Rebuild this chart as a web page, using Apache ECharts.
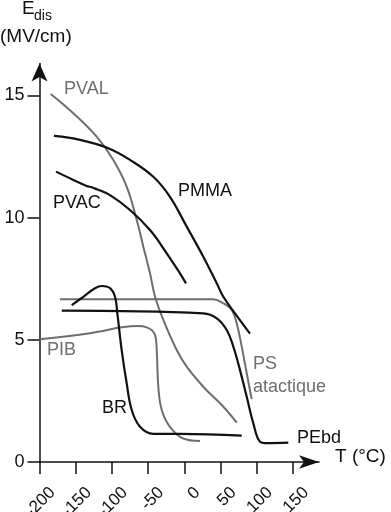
<!DOCTYPE html>
<html><head><meta charset="utf-8">
<script src="https://cdn.jsdelivr.net/npm/echarts@6/dist/echarts.min.js"></script>
<style>html,body{margin:0;padding:0;background:#fff}#c{width:391px;height:512px}</style>
</head><body><div id="c"></div>
<script>
const xTicks = [-200,-150,-100,-50,0,50,100,150];
const yTicks = [0,5,10,15];

const pvalT = [-184.5,-153.3,-121,-98.1,-79.6,-65.7,-56.6,-47.4,-40.5,-29,-10.5,3.3,26.2,53.9,72.4];
const pvalE = [15.06,14.27,13.31,12.36,11.27,9.9,8.81,7.72,6.77,5.81,4.58,3.9,3.08,2.26,1.61];

const pmmaT = [-180,-144.1,-105,-75,-42.8,-19.8,3.3,26.2,44.8,53.9,72,90.7];
const pmmaE = [13.34,13.18,12.84,12.36,11.67,10.85,9.63,8.4,7.31,6.76,6.0,5.25];

const pvacT = [-177.2,-153.3,-134.8,-127.9,-121,-102.6,-75,-47.4,-24.3,-6,2.3];
const pvacE = [11.88,11.54,11.29,11.24,11.16,10.92,10.31,9.49,8.54,7.72,7.31];

const psT = [-171.7,40.1,53.9,65.5,72.4,79.3,86.2,93.1];
const psE = [6.66,6.66,6.49,6.22,5.67,4.72,3.63,2.57];

const pebdT = [-169.3,26.2,44.8,58.6,67.7,76.9,86.2,95.3,104.6,113.8,143.6];
const pebdE = [6.19,6.08,5.88,5.4,4.72,3.76,2.67,1.58,0.83,0.77,0.79];

const brT = [-155.5,-139.5,-123.3,-114.1,-102.6,-95.7,-92.5,-86.5,-79.6,-72.7,-61.2,-42.8,-5.9,79.3];
const brE = [6.42,6.76,7.11,7.2,7.11,6.76,6.08,4.58,3.22,2.13,1.44,1.15,1.15,1.08];

const pibT = [-200,-130.2,-65.7,-51.9,-40.5,-38.1,-35.9,-31.2,-19.8,-1.4,21.7];
const pibE = [5.02,5.27,5.56,5.51,5.2,4.58,3.08,2.13,1.44,0.96,0.86];

const BLACK = '#111';
const GRAY = '#6e6e6e';
const FONT = 'Liberation Sans';

function zip(a, b) { return a.map((v, i) => [v, b[i]]); }
function line(name, T, E, color, w) {
  return { name, type: 'line', data: zip(T, E), smooth: 0.4,
    symbol: 'none', lineStyle: { color, width: w }, silent: true, animation: false, clip: false };
}
function label(text, left, y, color, size) {
  return { type: 'text', left, top: y - (size || 18) * 0.6, silent: true,
    style: { text, fill: color, font: (size || 18) + 'px "' + FONT + '"' } };
}

const chart = echarts.init(document.getElementById('c'));
chart.setOption({
  animation: false,
  backgroundColor: '#fff',
  grid: { left: 39.5, top: 63.6, width: 279.5, height: 398.4, containLabel: false, outerBoundsMode: 'none' },
  xAxis: {
    type: 'value', min: -200, max: 186,
    axisLine: { show: true, onZero: false, symbol: ['none', 'arrow'], symbolSize: [10, 20], lineStyle: { color: BLACK, width: 1.5 } },
    axisTick: { show: true, customValues: xTicks, length: 12, lineStyle: { color: BLACK, width: 1.5 } },
    axisLabel: { customValues: xTicks, rotate: 45, margin: 15, padding: [10, 0, 0, 0], verticalAlign: 'top', color: '#111', fontSize: 17, fontFamily: FONT },
    splitLine: { show: false }
  },
  yAxis: {
    type: 'value', min: 0, max: 16.3,
    axisLine: { show: true, onZero: false, symbol: ['none', 'arrow'], symbolSize: [12, 18], lineStyle: { color: BLACK, width: 1.5 } },
    axisTick: { show: true, customValues: yTicks, length: 12, lineStyle: { color: BLACK, width: 1.5 } },
    axisLabel: { customValues: yTicks, margin: 15, color: '#111', fontSize: 18, fontFamily: FONT },
    splitLine: { show: false }
  },
  series: [
    line('PVAL', pvalT, pvalE, GRAY, 2),
    line('PIB', pibT, pibE, GRAY, 2),
    line('PS atactique', psT, psE, GRAY, 2),
    line('PMMA', pmmaT, pmmaE, BLACK, 2.2),
    line('PVAC', pvacT, pvacE, BLACK, 2.2),
    line('PEbd', pebdT, pebdE, BLACK, 2.2),
    line('BR', brT, brE, BLACK, 2.2)
  ],
  graphic: [
    label('PVAL', 64, 91, GRAY),
    label('PMMA', 178, 193, BLACK),
    label('PVAC', 53, 204.5, BLACK),
    label('PIB', 47, 352, GRAY),
    label('BR', 102, 410, BLACK),
    label('PS', 253, 365.5, GRAY),
    label('atactique', 253, 389, GRAY),
    label('PEbd', 297, 439.5, BLACK),
    label('T (°C)', 335, 459, BLACK, 19),
    label('E', 22, 11, BLACK, 19),
    label('dis', 34, 18, BLACK, 14),
    label('(MV/cm)', 0, 38.5, BLACK, 19)
  ]
});
</script>
</body></html>
